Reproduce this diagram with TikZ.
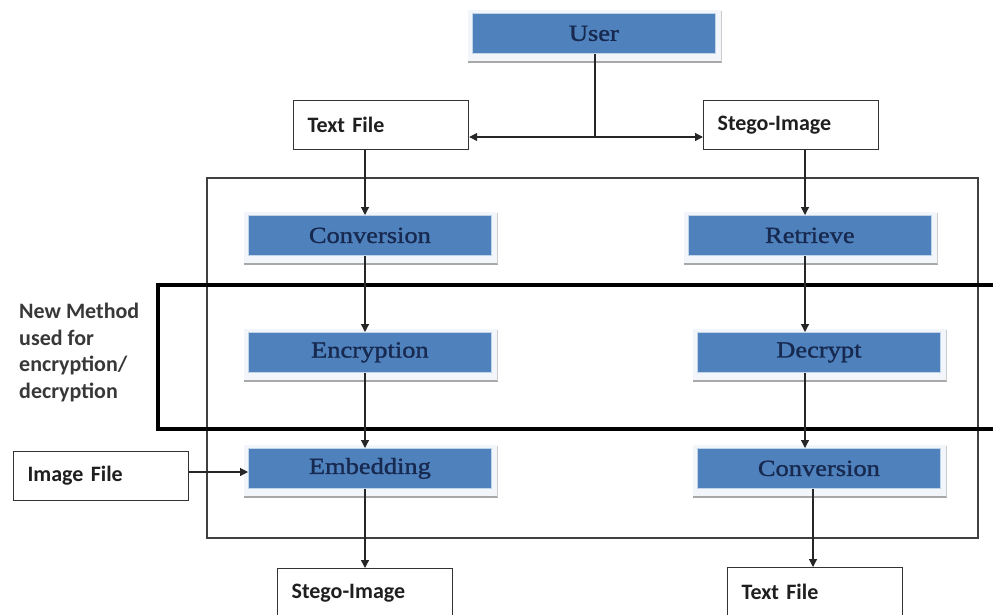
\documentclass[tikz,border=0pt]{standalone}
\usepackage{fontspec}
\usetikzlibrary{arrows.meta,backgrounds,calc}
\newfontfamily\filefont{Carlito}
\newfontfamily\stagefont[FakeStretch=1.15,FakeBold=1.3]{Liberation Serif}
\definecolor{stageblue}{HTML}{4F81BD}
\definecolor{stageink}{HTML}{17294F}
\definecolor{stageshade}{HTML}{F2F5FA}
\definecolor{stageedge}{HTML}{A8A8A8}
\definecolor{stageside}{HTML}{CCCCCC}

\tikzset{
  stage/.style={anchor=north west, fill=stageblue, draw=stageblue!35!white,
    line width=0.8pt, minimum width=243pt, minimum height=40pt, inner sep=0pt,
    font=\stagefont\fontsize{23}{27}\selectfont, text=stageink},
  filebox/.style={anchor=north west, draw=black!80, line width=1.2pt, fill=white,
    minimum height=49pt, text width=147pt, inner xsep=14pt, align=left,
    font=\filefont\bfseries\fontsize{22}{26}\selectfont, text=black!88},
  arr/.style={-{Triangle[length=8pt,width=8pt]}, line width=1.2pt, draw=black!85},
  frame/.style={draw=black!75, line width=1.3pt},
  band/.style={draw=black, line width=4.5pt},
  stageglow/.style={fill=stageshade},
  stagefloor/.style={draw=stageedge, line width=1.4pt},
  stagewall/.style={draw=stageside, line width=1pt}
}

% soft backdrop behind a process box: pale halo, grey floor line, light side line
\newcommand{\stageshadow}[1]{%
  \begin{scope}[on background layer]
    \path[stageglow] ($(#1.north west)+(-4,-3)$) rectangle ($(#1.south east)+(6,8)$);
    \draw[stagefloor] ($(#1.south west)+(-4,8)$) -- ($(#1.south east)+(6,8)$);
    \draw[stagewall] ($(#1.north east)+(6,-2)$) -- ($(#1.south east)+(6,8)$);
  \end{scope}}

\begin{document}
\begin{tikzpicture}[x=1pt,y=-1pt]
\useasboundingbox (0,0) rectangle (993,614);
\clip (0,0) rectangle (993,614);

% enclosing frame and the highlighted encryption band
\draw[frame] (207,178) rectangle (978,538);
\draw[band] (158,285) rectangle (1012,429);

% user and its two input/output files
\node[stage] (user) at (472,13) {User};
\node[filebox] (tfin) at (293,100) {Text File};
\node[filebox] (sgin) at (703,100) {Stego-Image};

% embedding side
\node[stage] (convL) at (248,215) {Conversion};
\node[stage] (encr) at (248,332) {Encryption};
\node[stage] (embed) at (248,448) {Embedding};
\node[filebox] (imgf) at (13,451) {Image File};
\node[filebox] (sgout) at (277,568) {Stego-Image};

% extraction side
\node[stage] (retr) at (688,215) {Retrieve};
\node[stage] (decr) at (697,332) {Decrypt};
\node[stage] (convR) at (697,448) {Conversion};
\node[filebox] (tfout) at (727,567) {Text File};

% note for the band
\node[anchor=north west, align=left, inner sep=0pt, text=black!78,
  font=\filefont\bfseries\fontsize{22}{26.5}\selectfont] (note) at (19,303)
  {New Method\\used for\\encryption/\\decryption};

\foreach \n in {user,convL,encr,embed,retr,decr,convR} {\stageshadow{\n}}

% connectors
\coordinate (j) at (595,137);
\coordinate (colL) at (365,0);
\coordinate (colR) at (805,0);
\coordinate (colR2) at (813,0);

\draw[line width=1.2pt, draw=black!85] (user.south -| j) -- (j);
\draw[arr] (j) -- (j -| tfin.east);
\draw[arr] (j) -- (j -| sgin.west);

\draw[arr] (tfin.south -| colL) -- (convL.north -| colL);
\draw[arr] (convL.south -| colL) -- (encr.north -| colL);
\draw[arr] (encr.south -| colL) -- (embed.north -| colL);
\draw[arr] (embed.south -| colL) -- (sgout.north -| colL);
\draw[arr] (imgf.east |- 0,472) -- (embed.west |- 0,472);

\draw[arr] (sgin.south -| colR) -- (retr.north -| colR);
\draw[arr] (retr.south -| colR) -- (decr.north -| colR);
\draw[arr] (decr.south -| colR) -- (convR.north -| colR);
\draw[arr] (convR.south -| colR2) -- (tfout.north -| colR2);
\end{tikzpicture}
\end{document}
